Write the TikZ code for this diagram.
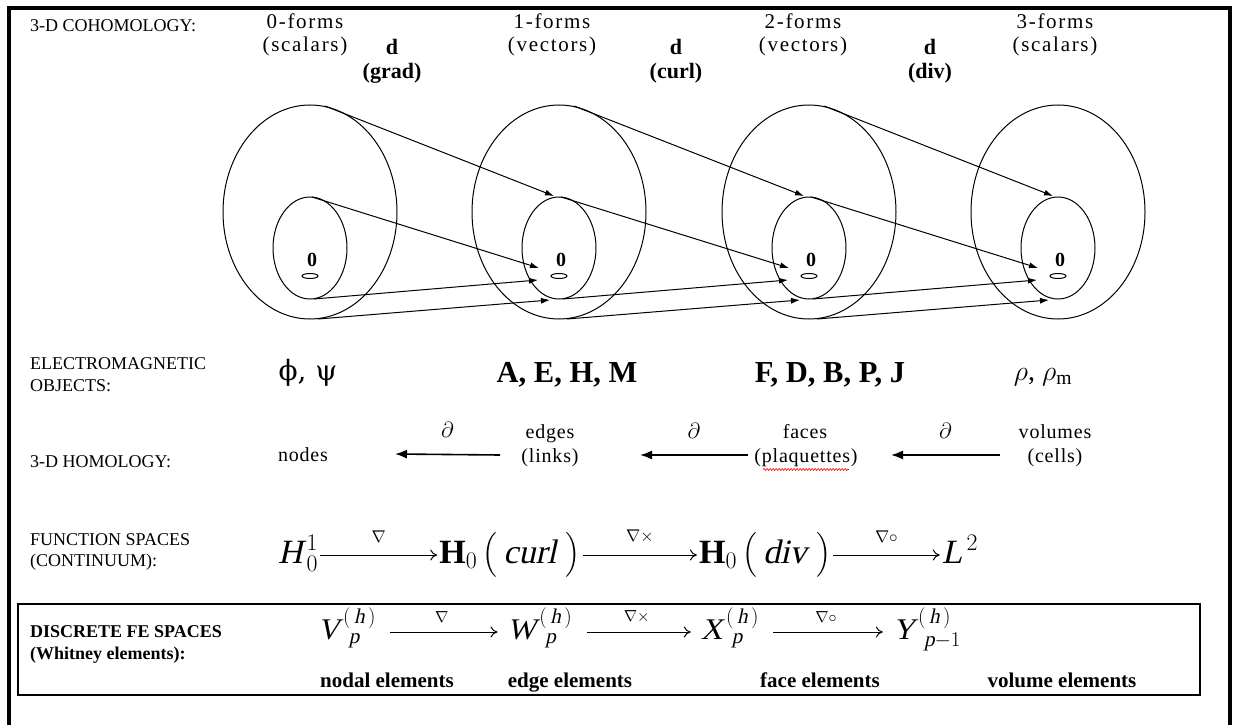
\RequirePackage{fix-cm}
\documentclass[tikz,border=0pt]{standalone}
\usepackage{amsmath}
\usepackage{fontspec}
\setmainfont{Liberation Serif}
\newfontfamily\bmfont[LetterSpace=8]{Liberation Serif}
\newfontfamily\hmfont[LetterSpace=4]{Liberation Serif}
\newfontfamily\slfont[FakeSlant=0.22]{Liberation Serif}
\newfontfamily\grkfont{DejaVu Serif}
\newcommand{\sv}[1]{\text{\slfont #1}}
\usetikzlibrary{arrows.meta,decorations.pathmorphing}

\begin{document}
\begin{tikzpicture}[x=1pt,y=-1pt,
  rowlab/.style={anchor=west,inner sep=0pt,font=\fontsize{18}{21}\selectfont},
  felab/.style={anchor=west,inner sep=0pt,font=\bfseries\fontsize{18}{20}\selectfont},
  formlab/.style={anchor=base,inner sep=0pt,font=\bmfont\fontsize{21}{23}\selectfont},
  homlab/.style={anchor=base,inner sep=0pt,font=\hmfont\fontsize{20}{22}\selectfont},
  dlab/.style={anchor=base,inner sep=0pt,font=\bfseries\fontsize{22}{24}\selectfont},
  zerolab/.style={inner sep=0pt,font=\bfseries\fontsize{20}{22}\selectfont},
  objlab/.style={anchor=base,inner sep=0pt,font=\fontsize{28}{30}\selectfont},
  objbold/.style={anchor=base,inner sep=0pt,font=\bfseries\fontsize{30.5}{32}\selectfont},
  fsmath/.style={inner sep=2pt,text height=30pt,text depth=13pt,font=\fontsize{34}{38}\selectfont},
  femath/.style={inner sep=2pt,text height=28pt,text depth=13pt,font=\fontsize{30}{34}\selectfont},
  oplab/.style={above=12pt,inner sep=0pt,font=\fontsize{17}{19}\selectfont},
  feop/.style={above=9pt,inner sep=0pt,font=\fontsize{16}{18}\selectfont},
  dellab/.style={above=16pt,inner sep=0pt,font=\fontsize{22}{24}\selectfont},
  elemlab/.style={anchor=base,inner sep=0pt,font=\bfseries\fontsize{21}{23}\selectfont},
  thinline/.style={line width=1pt},
  maparrow/.style={-{Latex[length=9pt,width=6pt]},line width=1pt},
  bndarrow/.style={-{Latex[length=12pt,width=9pt]},line width=1.6pt},
  fsarrow/.style={-{To[length=7pt,width=11pt]},line width=1pt},
  spell/.style={red,line width=0.6pt,decorate,decoration={snake,amplitude=1pt,segment length=3pt}}]
  \useasboundingbox (0,0) rectangle (1235,725);
  \draw[line width=4pt] (9,745) -- (9,8) -- (1230,8) -- (1230,745);

  % cohomology
  \node[rowlab] (coh) at (30,26) {3-D COHOMOLOGY:};
  \foreach \x/\k/\s/\n in {305/0/scalars/f0,552/1/vectors/f1,803/2/vectors/f2,1055/3/scalars/f3} {
    \node[formlab] (\n) at (\x,29) {\k-forms};
    \node[formlab] (\n b) at (\x,52) {(\s)};
  }
  \foreach \x/\op/\n in {392/grad/d1,676/curl/d2,930/div/d3} {
    \node[dlab] (\n) at (\x,55) {d};
    \node[dlab] (\n b) at (\x,78) {(\op)};
  }
  \foreach \cx [count=\i] in {310,559,809,1058} {
    \draw[thinline] (\cx,212) ellipse (87 and 107);
    \draw[thinline] (\cx,248) ellipse (37 and 51);
    \node[zerolab] (z\i) at (\cx+2,260) {0};
    \draw[thinline] (\cx,276) ellipse (8 and 2.5);
    \coordinate (ot\i) at (\cx+15,106);
    \coordinate (it\i) at (\cx+2,197);
    \coordinate (ib\i) at (\cx+4,299);
    \coordinate (ob\i) at (\cx+8,319);
    \coordinate (ti\i) at (\cx-5,196);
    \coordinate (zt\i) at (\cx-20,268);
    \coordinate (zb\i) at (\cx-21,280);
    \coordinate (bi\i) at (\cx-9,300);
  }
  \foreach \i/\j in {1/2,2/3,3/4} {
    \draw[maparrow] (ot\i) -- (ti\j);
    \draw[maparrow] (it\i) -- (zt\j);
    \draw[maparrow] (ib\i) -- (zb\j);
    \draw[maparrow] (ob\i) -- (bi\j);
  }

  % objects
  \node[rowlab] (em) at (30,364) {ELECTROMAGNETIC};
  \node[rowlab] (emb) at (30,386) {OBJECTS:};
  \node[objlab] (obj0) at (308,380) {\grkfont ϕ, ψ};
  \node[objbold] (obj1) at (567,382) {A, E, H, M};
  \node[objbold] (obj2) at (830,382) {F, D, B, P, J};
  \node[objlab] (obj3) at (1043,380) {$\rho$, $\rho_{\mathrm{m}}$};

  % homology
  \node[rowlab] (hom) at (30,462) {3-D HOMOLOGY:};
  \node[homlab] (nodes) at (303,461) {nodes};
  \node[homlab] (edges) at (550,438) {edges};
  \node[homlab] (links) at (550,462) {(links)};
  \node[homlab] (faces) at (805,438) {faces};
  \node[homlab] (plaq) at (806,462) {(plaquettes)};
  \node[homlab] (vols) at (1055,438) {volumes};
  \node[homlab] (cells) at (1055,462) {(cells)};
  \draw[spell] ([xshift=9pt,yshift=-3pt]plaq.south west) -- ([xshift=-9pt,yshift=-3pt]plaq.south east);
  \draw[bndarrow] ([xshift=-50pt,yshift=7pt]links.base) -- node[dellab] {$\partial$} ([xshift=92pt,yshift=7pt]nodes.base);
  \draw[bndarrow] ([xshift=-58pt,yshift=7pt]plaq.base) -- node[dellab] {$\partial$} ([xshift=90pt,yshift=7pt]links.base);
  \draw[bndarrow] ([xshift=-55pt,yshift=7pt]cells.base) -- node[dellab] {$\partial$} ([xshift=85pt,yshift=7pt]plaq.base);

  % function spaces
  \node[rowlab] (fs) at (30,540) {FUNCTION SPACES};
  \node[rowlab] (fsb) at (30,562) {(CONTINUUM):};
  \node[fsmath] (h1) at (298,555) {$\sv{H}^{\,1}_{\,0}$};
  \node[fsmath] (hcurl) at (510,555) {$\textbf{H}_0\,\bigl(\,\sv{curl}\;\bigr)$};
  \node[fsmath] (hdiv) at (765,555) {$\textbf{H}_0\,\bigl(\,\sv{div}\;\bigr)$};
  \node[fsmath] (l2) at (960,555) {$\sv{L}^{\,2}$};
  \draw[fsarrow] (h1) -- node[oplab] {$\nabla$} (hcurl);
  \draw[fsarrow] (hcurl) -- node[oplab] {$\nabla\times$} (hdiv);
  \draw[fsarrow] (hdiv) -- node[oplab] {$\nabla\circ$} (l2);

  % discrete spaces
  \draw[line width=1.5pt] (18,604) rectangle (1200,695);
  \node[felab] (fe) at (30,632) {DISCRETE FE SPACES};
  \node[felab] (feb) at (30,655) {(Whitney elements):};
  \node[femath] (vp) at (347,632) {$\sv{V}^{\,(\,\sv{h}\,)}_{\;\,\sv{p}}$};
  \node[femath] (wp) at (540,632) {$\sv{W}^{\,(\,\sv{h}\,)}_{\;\,\sv{p}}$};
  \node[femath] (xp) at (730,632) {$\sv{X}^{\,(\,\sv{h}\,)}_{\;\,\sv{p}}$};
  \node[femath] (yp) at (927,632) {$\sv{Y}^{\,(\,\sv{h}\,)}_{\;\,\sv{p}-1}$};
  \draw[fsarrow,shorten <=12pt,shorten >=8pt] (vp) -- node[feop] {$\nabla$} (wp);
  \draw[fsarrow,shorten <=12pt,shorten >=8pt] (wp) -- node[feop] {$\nabla\times$} (xp);
  \draw[fsarrow,shorten <=12pt,shorten >=8pt] (xp) -- node[feop] {$\nabla\circ$} (yp);
  \node[elemlab] (nodal) at (387,687) {nodal elements};
  \node[elemlab] (edgel) at (570,687) {edge elements};
  \node[elemlab] (facel) at (820,687) {face elements};
  \node[elemlab] (voll) at (1062,687) {volume elements};
\end{tikzpicture}
\end{document}
